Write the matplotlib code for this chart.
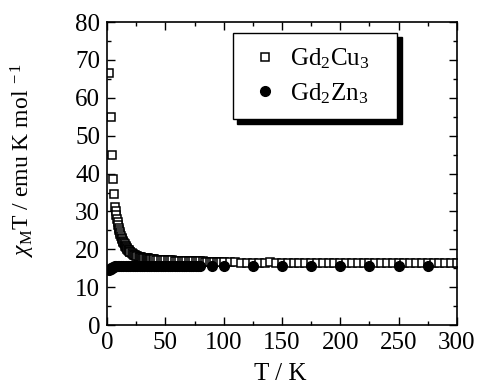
import numpy as np
import matplotlib
matplotlib.use('Agg')
import matplotlib.pyplot as plt
from matplotlib.ticker import MultipleLocator

plt.rcParams['font.family'] = ['Liberation Serif', 'DejaVu Serif']
plt.rcParams['mathtext.fontset'] = 'custom'
plt.rcParams['mathtext.rm'] = 'Liberation Serif'
plt.rcParams['mathtext.it'] = 'Liberation Serif:italic'

# Gd2Cu3 (open squares), chi_M*T in emu K mol^-1
T_cu = [2, 3, 4, 5, 6, 7,
        7.5, 8, 8.5, 9, 9.5, 10, 10.5, 11, 11.5, 12, 12.5, 13, 13.5,
        14, 14.5, 15, 15.5, 16, 16.5, 17, 17.5, 18, 18.5, 19, 19.5, 20,
        21, 22, 23, 24, 25, 26, 27, 28, 29, 30,
        31, 32, 33, 34, 35, 36, 37, 38, 39, 40,
        42, 44, 46, 48, 50, 52, 54, 56, 58, 60,
        62, 64, 66, 68, 70, 72, 74, 76, 78, 80,
        82, 84, 86, 88, 90, 92, 94, 96, 98, 100,
        105, 110, 115, 120, 125, 130, 135, 140, 145, 150,
        155, 160, 165, 170, 175, 180, 185, 190, 195, 200,
        205, 210, 215, 220, 225, 230, 235, 240, 245, 250,
        255, 260, 265, 270, 275, 280, 285, 290, 295, 300]
chi_cu = [66.5, 55.0, 45.0, 38.5, 34.5, 31.2,
          30.0, 29.0, 28.0, 27.2, 26.4, 25.7, 25.1, 24.5, 24.0, 23.5, 23.0,
          22.6, 22.2, 21.9, 21.6, 21.3, 21.0, 20.8, 20.5, 20.3, 20.1, 19.9,
          19.7, 19.6, 19.4, 19.3,
          19.0, 18.8, 18.6, 18.5, 18.3, 18.2, 18.1, 18.0, 17.9, 17.8,
          17.8, 17.7, 17.7, 17.6, 17.6, 17.5, 17.5, 17.5, 17.4, 17.4,
          17.3, 17.3, 17.2, 17.2, 17.2, 17.1, 17.1, 17.1, 17.0, 17.0,
          17.0, 17.0, 16.9, 16.9, 16.9, 16.9, 16.8, 16.8, 16.8, 16.8,
          16.8, 16.7, 16.7, 16.7, 16.7, 16.7, 16.6, 16.6, 16.6, 16.6,
          16.6, 16.6, 16.5, 16.5, 16.5, 16.5, 16.5, 16.6, 16.5, 16.4,
          16.4, 16.4, 16.4, 16.4, 16.4, 16.4, 16.4, 16.4, 16.4, 16.4,
          16.3, 16.3, 16.3, 16.3, 16.3, 16.3, 16.3, 16.3, 16.3, 16.3,
          16.3, 16.3, 16.3, 16.3, 16.3, 16.3, 16.3, 16.3, 16.3, 16.3]

# Gd2Zn3 (filled circles)
T_zn = [2, 2.5, 3, 3.5, 4, 5, 6, 7, 8, 9, 10,
        12, 14, 16, 18, 20, 22, 24, 26, 28, 30,
        32, 34, 36, 38, 40, 42, 44, 46, 48, 50,
        52, 54, 56, 58, 60, 62, 64, 66, 68, 70,
        72, 74, 76, 78, 80,
        90, 100, 125, 150, 175, 200, 225, 250, 275]
chi_zn = [14.5, 14.7, 14.9, 15.0, 15.1, 15.3, 15.4, 15.5, 15.5, 15.6, 15.6,
          15.7, 15.7, 15.7, 15.7, 15.7, 15.7, 15.7, 15.7, 15.7, 15.7,
          15.7, 15.7, 15.7, 15.7, 15.7, 15.7, 15.7, 15.7, 15.7, 15.7,
          15.7, 15.7, 15.7, 15.7, 15.7, 15.7, 15.7, 15.7, 15.7, 15.7,
          15.7, 15.7, 15.7, 15.7, 15.7,
          15.6, 15.6, 15.6, 15.6, 15.6, 15.6, 15.6, 15.6, 15.6]

fig = plt.figure(figsize=(4.8, 3.87), dpi=100)
ax = fig.add_axes([0.223, 0.160, 0.729, 0.783])

ax.plot(T_cu, chi_cu, linestyle='none', marker='s', markersize=6,
        markerfacecolor='white', markeredgecolor='black', markeredgewidth=1.1,
        label=r'Gd$_2$Cu$_3$   ')
ax.plot(T_zn, chi_zn, linestyle='none', marker='o', markersize=7,
        color='black', label=r'Gd$_2$Zn$_3$   ')

ax.set_xlim(0, 300)
ax.set_ylim(0, 80)
ax.xaxis.set_major_locator(MultipleLocator(50))
ax.xaxis.set_minor_locator(MultipleLocator(25))
ax.yaxis.set_major_locator(MultipleLocator(10))
ax.yaxis.set_minor_locator(MultipleLocator(5))
ax.tick_params(which='both', direction='in', top=True, right=True,
               labelsize=18, width=1)
ax.tick_params(which='major', length=6, pad=5)
ax.tick_params(which='minor', length=3)
for s in ax.spines.values():
    s.set_linewidth(1.2)

ax.set_xlabel('T / K', fontsize=18)
ax.set_ylabel(r'$\chi_{\rm M}$T / emu K mol$^{\rm \ -1}$', fontsize=17)
ax.xaxis.set_label_coords(0.494, -0.125)
ax.yaxis.set_label_coords(-0.20, 0.545)

leg = ax.legend(loc='upper right', bbox_to_anchor=(0.83, 0.965), fontsize=18,
                frameon=True, fancybox=False,
                shadow={'color': 'black', 'alpha': 1, 'ox': 3, 'oy': -3},
                edgecolor='black', handletextpad=0.25, borderpad=0.55,
                labelspacing=0.4, handlelength=1.5, borderaxespad=0)
leg.get_frame().set_linewidth(1)

fig.savefig('out.png', dpi=100)
